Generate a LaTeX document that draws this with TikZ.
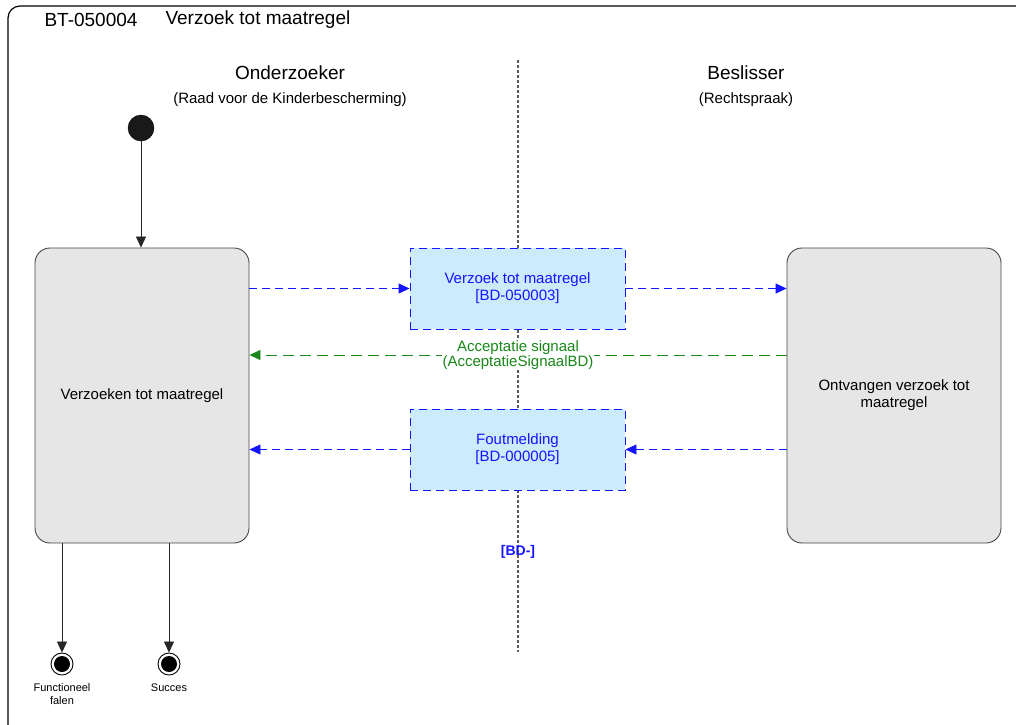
\documentclass[tikz,border=0pt]{standalone}
\usepackage{fontspec}
\setmainfont{Liberation Sans}
\usetikzlibrary{arrows.meta}
\definecolor{msgblue}{RGB}{20,20,255}
\definecolor{msgfill}{RGB}{204,235,253}
\definecolor{accgreen}{RGB}{25,135,25}
\definecolor{statefill}{RGB}{230,230,230}
\definecolor{stateline}{RGB}{70,70,70}
\begin{document}
\begin{tikzpicture}[x=1pt,y=-1pt,
  body/.style={font=\fontsize{15}{17}\selectfont},
  head/.style={font=\fontsize{19}{22}\selectfont},
  small/.style={font=\fontsize{11}{12.5}\selectfont},
  statebox/.style={draw=stateline,fill=statefill,rounded corners=15pt,line width=0.9pt,minimum width=214pt,minimum height=295pt,inner sep=0pt,align=center,body},
  msgbox/.style={draw=msgblue,fill=msgfill,dashed,dash pattern=on 8pt off 5pt,line width=0.9pt,minimum width=215pt,minimum height=81pt,inner sep=0pt,align=center,body,text=msgblue},
  tip/.style={-{Triangle[length=11pt,width=10pt]}},
  bluearrow/.style={draw=msgblue,line width=0.9pt,dash pattern=on 8pt off 5pt,tip},
  greenarrow/.style={draw=accgreen,line width=0.9pt,dash pattern=on 11pt off 6pt,tip},
  solidarrow/.style={draw=black!85,line width=0.8pt,tip},
  finalstate/.style={circle,draw=black,line width=0.9pt,fill=white,minimum size=22pt,inner sep=0pt,path picture={\fill[black] (path picture bounding box.center) circle[radius=8pt];}}
]
\useasboundingbox (0,0) rectangle (1016,724);
% frame
\draw[line width=1.2pt,rounded corners=12pt] (8,730) -- (8,6) -- (1030,6);
\node[head,anchor=west] (t1) at (41,20) {BT-050004};
\node[head,anchor=west] (t2) at (162,20) {Verzoek tot maatregel};
% lane headings
\node[head] (h1) at (290,73) {Onderzoeker};
\node[body] (h1s) at (290,100) {(Raad voor de Kinderbescherming)};
\node[head] (h2) at (746,73) {Beslisser};
\node[body] (h2s) at (746,100) {(Rechtspraak)};
% separator
\coordinate (sepTop) at (518,60);
\coordinate (sepBot) at (518,652);
\draw[black!65,line width=1.1pt,dash pattern=on 3pt off 2pt] (sepTop) -- (sepBot);
% states
\node[circle,fill=black!90,draw=black,minimum size=26pt,inner sep=0pt] (init) at (141,128) {};
\node[statebox] (left) at (142,395.5) {Verzoeken tot maatregel};
\node[statebox] (right) at (894,395.5) {Ontvangen verzoek tot\\maatregel};
\node[msgbox] (m1) at (517.5,288.5) {Verzoek tot maatregel\\{}[BD-050003]};
\node[msgbox] (m2) at (517.5,449.5) {Foutmelding\\{}[BD-000005]};
\node[font=\fontsize{14}{16}\selectfont\bfseries,text=msgblue] (bd) at (518,552) {[BD-]};
% initial arrow
\draw[solidarrow] (init) -- (init |- left.north);
% messages
\draw[bluearrow] (left.east |- m1) -- (m1.west);
\draw[bluearrow] (m1.east) -- (right.west |- m1);
\draw[bluearrow] (right.west |- m2) -- (m2.east);
\draw[bluearrow] (m2.west) -- (left.east |- m2);
\coordinate (gA) at (787,355);
\draw[greenarrow] (right.west |- gA) -- (left.east |- gA);
\node[body,text=accgreen,fill=white,inner sep=0.5pt,align=center,font=\fontsize{15}{15}\selectfont] (acc) at (518,355) {Acceptatie signaal\\(AcceptatieSignaalBD)};
% final states
\node[finalstate] (f1) at (62,664) {};
\node[finalstate] (f2) at (169,664) {};
\draw[solidarrow] (left.south -| f1) -- (f1.north);
\draw[solidarrow] (left.south -| f2) -- (f2.north);
\node[small,align=center,anchor=north] (f1l) at (62,680) {Functioneel\\falen};
\node[small,anchor=north] (f2l) at (169,680) {Succes};
\end{tikzpicture}
\end{document}
